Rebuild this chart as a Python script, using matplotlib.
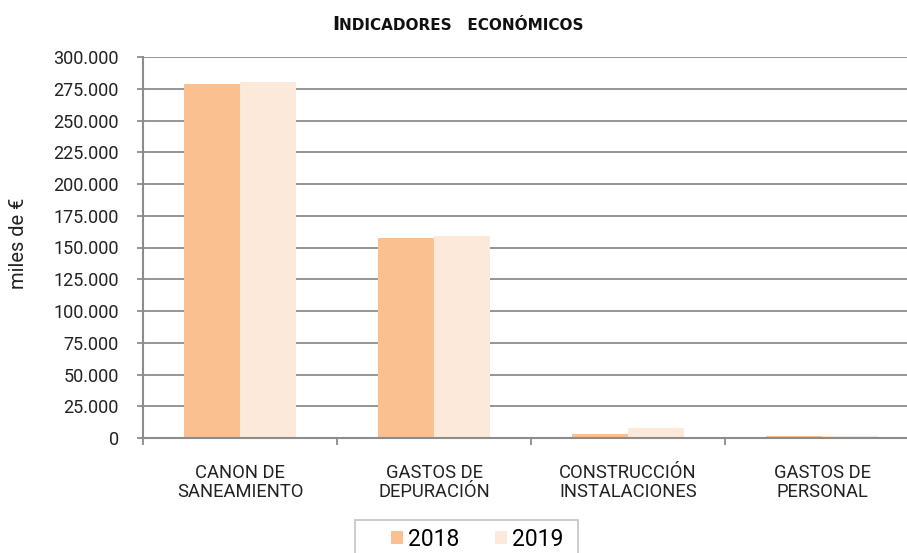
import numpy as np
import matplotlib.pyplot as plt
from matplotlib.ticker import FuncFormatter, FixedLocator
from matplotlib.patches import Rectangle

categorias = ["CANON DE\nSANEAMIENTO", "GASTOS DE\nDEPURACIÓN",
              "CONSTRUCCIÓN\nINSTALACIONES", "GASTOS DE\nPERSONAL"]
valores_2018 = [278700, 157500, 3100, 1800]
valores_2019 = [280100, 159000, 8100, 1600]
anios = ["2018", "2019"]

color_2018 = "#FAC090"
color_2019 = "#FDE9D9"
gris = "#8C8C8C"

plt.rcParams['font.family'] = ['Roboto', 'DejaVu Sans']

W, H = 907, 553
fig = plt.figure(figsize=(W / 100, H / 100), dpi=100)
ax = fig.add_axes([143 / W, 1 - 438 / H, 776 / W, 381 / H])

x = np.arange(len(categorias))
w = 0.29
ax.bar(x - w / 2, valores_2018, w, color=color_2018, label=anios[0], zorder=3)
ax.bar(x + w / 2, valores_2019, w, color=color_2019, label=anios[1], zorder=3)

ax.set_xlim(-0.5, len(categorias) - 0.5)
ax.set_ylim(0, 300000)
ax.set_yticks(np.arange(0, 300001, 25000))
ax.yaxis.set_major_formatter(FuncFormatter(lambda v, p: f"{int(v):,}".replace(",", ".")))
ax.grid(axis='y', color=gris, linewidth=1.3, zorder=0)

ax.set_xticks(x)
ax.set_xticklabels(categorias, fontsize=13.2, color="#222222", linespacing=1.05)
ax.tick_params(axis='x', which='major', length=0, pad=19)
ax.xaxis.set_minor_locator(FixedLocator(np.arange(-0.5, len(categorias), 1)))
ax.tick_params(axis='x', which='minor', length=5, color=gris, width=1.3)
ax.tick_params(axis='y', length=4.5, color=gris, width=1.3, labelsize=13,
               labelcolor="#222222", pad=13)

for s in ['top', 'right']:
    ax.spines[s].set_visible(False)
for s in ['left', 'bottom']:
    ax.spines[s].set_color(gris)
    ax.spines[s].set_linewidth(1.5)
    ax.spines[s].set_zorder(4)

fig.text(19 / W, 1 - 243 / H, "miles de €", fontsize=14.5, color="#222222",
         rotation=90, ha='center', va='center')

# titulo en versalitas
fig.text(339 / W, 1 - 29.5 / H, "I", fontsize=14, fontweight='bold',
         family='DejaVu Sans', ha='right', va='baseline', color="#111111")
fig.text(339 / W, 1 - 29.5 / H, "NDICADORES   ECONÓMICOS", fontsize=11,
         fontweight='bold', family='DejaVu Sans', ha='left', va='baseline',
         color="#111111")

# leyenda (caja tipo Excel, cortada por el borde inferior)
fig.patches.append(Rectangle((355 / W, -0.05), 223 / W, 0.05 + 1 - 520 / H,
                             transform=fig.transFigure, facecolor='white',
                             edgecolor="#C8C8C8", linewidth=1.3, zorder=1))
leg = fig.legend(loc='center', bbox_to_anchor=(477 / W, 1 - 539 / H), ncol=2,
                 fontsize=16.5, frameon=False,
                 handlelength=0.52, handleheight=0.52, handletextpad=0.22,
                 columnspacing=1.55, borderpad=0, borderaxespad=0)

fig.savefig("out.png", dpi=100)
